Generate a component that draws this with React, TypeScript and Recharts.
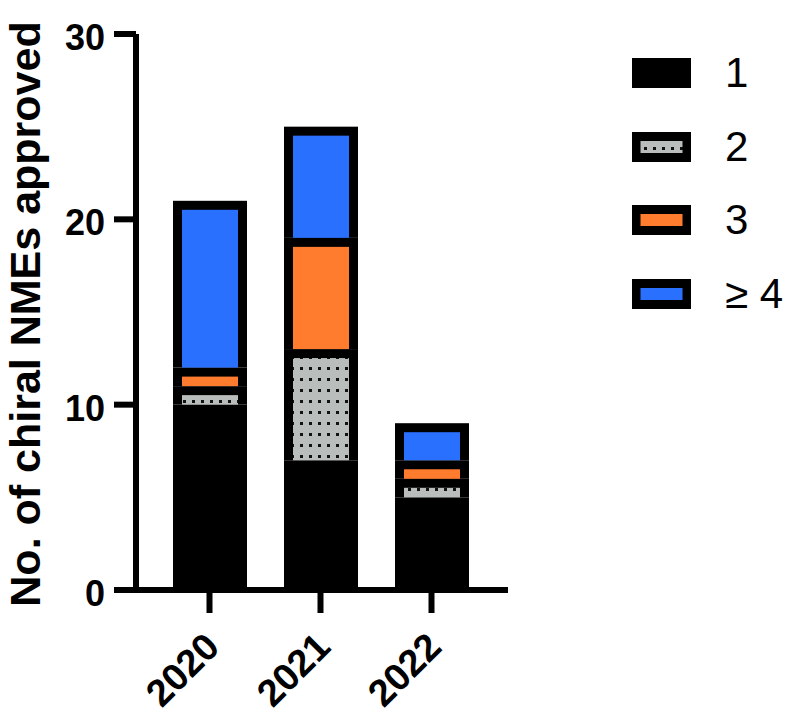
import React from 'react';
import { BarChart, Bar, XAxis, YAxis, Legend } from 'recharts';

// counts of chiral NMEs approved, split by number of chiral centres
const years = ['2020', '2021', '2022'];
const oneCentre = [10, 7, 5];
const twoCentres = [1, 6, 1];
const threeCentres = [1, 6, 1];
const fourPlusCentres = [9, 6, 2];
const yTicks = [0, 10, 20, 30];

const data = years.map((year, i) => ({
  year,
  c1: oneCentre[i],
  c2: twoCentres[i],
  c3: threeCentres[i],
  c4: fourPlusCentres[i],
}));

const FONT = '"Liberation Sans", Arial, Helvetica, sans-serif';
const BORDER = 9;
const GREY = '#b9bdbc';
const ORANGE = '#ff7c2e';
const BLUE = '#2a70ff';

// each stacked segment: black box, coloured inside, border on top and sides only
function Segment(props: any) {
  const { x, y, width, height, fill } = props;
  if (!height || height <= 0) return null;
  const top = Math.min(BORDER, height);
  return (
    <g>
      <rect x={x} y={y} width={width} height={height} fill="#000" />
      {height > top && (
        <rect x={x + BORDER} y={y + top} width={width - 2 * BORDER} height={height - top} fill={fill} />
      )}
    </g>
  );
}

function YearTick({ x, y, payload }: any) {
  const ax = x + 12;
  const ay = y + 34;
  return (
    <text
      x={ax}
      y={ay}
      transform={`rotate(-45 ${ax} ${ay})`}
      textAnchor="end"
      fontFamily={FONT}
      fontWeight="bold"
      fontSize={38}
      fill="#000"
    >
      {payload.value}
    </text>
  );
}

function CountTick({ x, y, payload }: any) {
  return (
    <text x={x} y={y + 16} textAnchor="end" fontFamily={FONT} fontWeight="bold" fontSize={36} fill="#000">
      {payload.value}
    </text>
  );
}

function YTitle() {
  return (
    <text
      x={40}
      y={314}
      transform="rotate(-90 40 314)"
      textAnchor="middle"
      fontFamily={FONT}
      fontWeight="bold"
      fontSize={43}
      fill="#000"
    >
      No. of chiral NMEs approved
    </text>
  );
}

function renderLegend({ payload }: any) {
  return (
    <div style={{ fontFamily: FONT }}>
      {(payload || []).map((entry: any) => (
        <div key={entry.value} style={{ display: 'flex', alignItems: 'center', height: 73.7 }}>
          <svg width={59} height={30} style={{ display: 'block' }}>
            <rect x={0} y={0} width={59} height={30} fill="#000" />
            <rect x={8.5} y={9} width={42} height={12} fill={entry.color} />
          </svg>
          <span style={{ fontSize: 42, marginLeft: 34, lineHeight: 1, color: '#000' }}>{entry.value}</span>
        </div>
      ))}
    </div>
  );
}

export default function App() {
  return (
    <div style={{ position: 'absolute', left: 0, top: 0, width: 786, height: 717, background: '#fff' }}>
      <svg width={0} height={0} style={{ position: 'absolute' }}>
        <defs>
          <pattern id="dots" width={9} height={11} patternUnits="userSpaceOnUse">
            <rect width={9} height={11} fill={GREY} />
            <rect x={3} y={4} width={3} height={3} fill="#111" />
          </pattern>
        </defs>
      </svg>
      <BarChart
        width={786}
        height={717}
        data={data}
        margin={{ top: 34, right: 278, bottom: 97, left: 0 }}
      >
        <XAxis
          dataKey="year"
          height={30}
          padding={{ left: 18, right: 21 }}
          axisLine={{ stroke: '#000', strokeWidth: 6 }}
          tickLine={{ stroke: '#000', strokeWidth: 6 }}
          tickSize={23}
          tick={<YearTick />}
          interval={0}
        />
        <YAxis
          width={136}
          domain={[0, 30]}
          ticks={yTicks}
          axisLine={{ stroke: '#000', strokeWidth: 6 }}
          tickLine={{ stroke: '#000', strokeWidth: 6 }}
          tickSize={22}
          tickMargin={9}
          tick={<CountTick />}
          label={<YTitle />}
        />
        <Legend
          layout="vertical"
          align="center"
          verticalAlign="middle"
          content={renderLegend}
          wrapperStyle={{ left: 632, top: 36, width: 154 }}
        />
        <Bar dataKey="c1" name="1" stackId="a" fill="#000" barSize={74} shape={<Segment />} isAnimationActive={false} />
        <Bar dataKey="c2" name="2" stackId="a" fill="url(#dots)" barSize={74} shape={<Segment />} isAnimationActive={false} />
        <Bar dataKey="c3" name="3" stackId="a" fill={ORANGE} barSize={74} shape={<Segment />} isAnimationActive={false} />
        <Bar dataKey="c4" name="≥ 4" stackId="a" fill={BLUE} barSize={74} shape={<Segment />} isAnimationActive={false} />
      </BarChart>
    </div>
  );
}
